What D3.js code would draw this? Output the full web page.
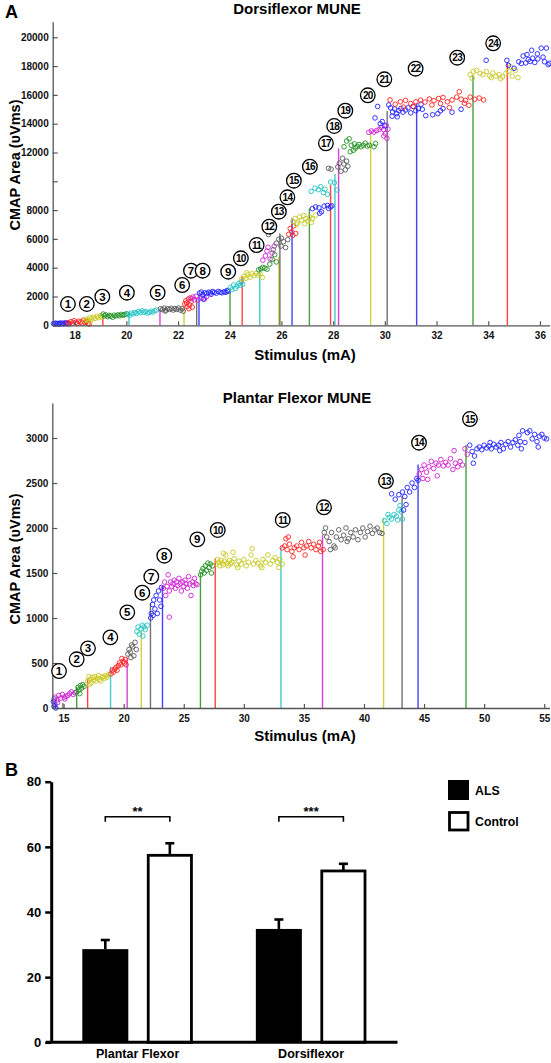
<!DOCTYPE html>
<html><head><meta charset="utf-8">
<script src="https://cdn.jsdelivr.net/npm/d3@7"></script>
<style>body{margin:0;background:#fff}svg{display:block}text{font-family:"Liberation Sans",Arial,Helvetica,sans-serif;font-weight:bold}</style>
</head><body><svg id="c" width="551" height="1063"></svg>
<script>
const palette = {b:"#2222ff", r:"#ff2222", y:"#c8c822", g:"#229022", c:"#22c4c4", m:"#d222d2", k:"#5a5a5a"};

// ---------- Panel A: Dorsiflexor MUNE ----------
const dorsiXTicks = [18,20,22,24,26,28,30,32,34,36];
const dorsiYTicks = [0,2000,4000,6000,8000,10000,12000,14000,16000,18000,20000];
const dorsiYLabels = [0,2000,4000,6000,8000,12000,14000,16000,18000,20000];
const dorsiThresholds = [[19.09,"r",670],[20.10,"c",850],[21.30,"m",1130],[22.23,"y",1290],[22.72,"k",1900],[22.81,"b",2200],[24.01,"g",2570],[24.48,"r",3420],[25.16,"c",3960],[25.90,"y",4760],[25.94,"k",6400],[26.41,"b",7430],[27.08,"g",8120],[27.90,"r",9740],[28.07,"c",10500],[28.21,"m",12290],[29.45,"y",13330],[30.09,"k",14880],[31.23,"b",15420],[33.41,"g",17380],[34.74,"r",18260]];
const dorsiUnitLabels = [[17.74,1479],[18.47,1479],[19.07,1986],[20.02,2264],[21.21,2264],[22.16,2798],[22.50,3792],[22.95,3792],[23.94,3722],[24.43,4653],[25.04,5576],[25.53,6847],[25.90,7888],[26.23,8888],[26.48,10041],[27.10,11013],[27.72,12638],[28.04,13840],[28.47,14902],[29.34,15972],[29.98,17083],[31.19,17819],[32.80,18583],[34.19,19583]];
const dorsiPoints = [
 ["b",[[17.18,120],[17.22,80],[17.26,150],[17.3,100],[17.35,130],[17.4,70],[17.44,160],[17.48,110],[17.53,140],[17.57,90],[17.62,170],[17.66,120],[17.7,150],[17.74,100]]],
 ["r",[[17.74,180],[17.8,110],[17.86,260],[17.92,150],[17.98,320],[18.04,200],[18.1,120],[18.16,280],[18.22,220],[18.28,150],[18.34,360],[18.4,200],[18.46,260],[18.52,130],[18.56,90]]],
 ["y",[[18.38,330],[18.45,420],[18.52,360],[18.58,520],[18.65,450],[18.72,560],[18.79,480],[18.86,620],[18.93,530],[19.0,660],[18.6,250],[19.04,580]]],
 ["g",[[19.1,780],[19.15,660],[19.2,720],[19.27,600],[19.33,690],[19.4,640],[19.47,560],[19.53,700],[19.6,650],[19.67,720],[19.73,660],[19.8,760],[19.87,700],[19.93,740],[20.0,800]]],
 ["c",[[20.05,780],[20.12,700],[20.19,850],[20.26,790],[20.33,880],[20.4,830],[20.47,960],[20.54,880],[20.61,1010],[20.68,900],[20.75,960],[20.82,850],[20.89,900],[20.96,980],[21.03,920],[21.1,1010],[21.17,1060]]],
 ["k",[[21.32,1150],[21.39,1090],[21.46,1200],[21.53,1050],[21.6,1150],[21.67,1100],[21.74,1180],[21.81,1060],[21.88,1160],[21.95,1100],[22.02,1200],[22.09,1050],[22.16,1150],[22.2,980],[21.5,990]]],
 ["r",[[22.26,1480],[22.3,1700],[22.35,1300],[22.4,1820],[22.45,1420],[22.5,1620],[22.55,1260],[22.33,1550],[22.47,1900],[22.42,1150]]],
 ["m",[[22.52,1850],[22.58,1960],[22.64,1780],[22.7,2020],[22.77,1760],[22.92,1900],[23.02,1820],[23.1,1980]]],
 ["b",[[22.83,2230],[22.9,2310],[22.96,2120],[23.03,2260],[23.1,2200],[23.18,2300],[23.25,2250],[23.33,2340],[23.4,2290],[23.48,2230],[23.55,2350],[23.63,2300],[23.7,2260],[23.78,2330],[23.85,2290],[23.93,2360],[22.98,1820],[23.28,2150],[23.9,2420]]],
 ["c",[[24.03,2620],[24.08,2480],[24.15,2800],[24.22,2560],[24.28,2720],[24.35,2900],[24.4,2780],[24.45,3020],[24.5,2850]]],
 ["y",[[24.47,3220],[24.55,3400],[24.62,3260],[24.7,3500],[24.78,3340],[24.86,3580],[24.94,3460],[25.02,3620],[25.1,3480],[25.18,3550],[25.26,3320],[24.66,3650]]],
 ["g",[[25.12,3860],[25.2,3920],[25.28,4020],[25.36,3960],[25.44,3900],[25.55,4250],[25.64,4580],[25.74,4900],[25.8,4400]]],
 ["m",[[25.28,4520],[25.38,4820],[25.48,5420],[25.56,4600],[25.64,5020],[25.44,5150],[25.72,5500]]],
 ["k",[[25.5,6300],[25.68,5250],[25.8,5700],[25.9,5980],[26.0,6050],[26.08,5800],[26.16,5400],[26.24,5950],[25.98,5500]]],
 ["r",[[26.28,6320],[26.34,6720],[26.4,6480],[26.47,6900],[26.55,6380],[26.44,6250]]],
 ["y",[[26.45,7220],[26.53,7420],[26.62,7100],[26.7,7520],[26.78,7300],[26.86,7620],[26.94,7400],[27.02,7230],[27.1,7520],[27.2,7400],[27.32,7650],[26.58,7000],[26.9,7060],[27.16,7150]]],
 ["b",[[27.2,8100],[27.32,8220],[27.45,8160],[27.55,7880],[27.65,8280],[27.78,8320],[27.9,8220],[27.48,7780],[27.82,8120],[27.95,8300]]],
 ["c",[[27.15,9300],[27.3,9520],[27.43,9420],[27.52,9620],[27.62,9220],[27.78,9100],[27.9,9950],[28.05,9900],[28.15,9400],[27.68,9450]]],
 ["k",[[27.82,10900],[27.92,10850],[28.18,11000],[28.24,11250],[28.3,10700],[28.36,11600],[28.42,11200],[28.47,10800],[28.52,11400],[28.57,11050]]],
 ["g",[[28.42,12400],[28.52,12800],[28.62,12950],[28.7,12500],[28.66,12050],[28.78,12150],[28.86,12300],[28.93,12420],[29.0,12550],[29.08,12400],[29.16,12500],[29.24,12650],[29.32,12450],[29.4,12500],[29.58,12400],[29.64,12620],[28.82,12600]]],
 ["m",[[29.38,13400],[29.48,13500],[29.58,13420],[29.68,13520],[29.78,13600],[29.86,13750],[29.95,13600],[30.02,13300],[30.08,12980],[29.96,13150],[30.12,13620],[30.05,13900]]],
 ["b",[[29.72,15200],[29.62,14400],[29.9,14150],[30.0,13850],[29.82,14000]]],
 ["b",[[30.15,15300],[30.22,15100],[30.3,14820],[30.38,15020],[30.46,14700],[30.54,14900],[30.62,15050],[30.7,14800],[30.8,14950],[30.9,15100],[31.0,14750],[31.1,15200],[31.2,14900],[31.3,15050],[31.45,15000],[30.28,14520],[30.48,14480],[31.58,14560],[31.85,14620],[32.15,14900],[32.25,15050],[32.6,14800],[32.95,15000],[32.05,14700],[31.4,15350]]],
 ["r",[[30.2,15650],[30.4,15350],[30.6,15520],[30.8,15620],[31.0,15400],[31.2,15520],[31.38,15640],[31.55,15500],[31.72,15720],[31.9,15600],[32.08,15750],[32.25,15820],[32.42,15520],[32.6,15650],[32.78,15850],[32.95,15700],[33.12,15620],[33.3,15850],[33.48,15700],[33.65,15780],[33.82,15650],[31.1,15200],[31.82,15300],[32.5,15120],[33.08,15420],[33.25,15280],[32.88,16220],[32.15,15400],[30.72,15150]]],
 ["y",[[33.3,17420],[33.42,17620],[33.55,17700],[33.68,17500],[33.8,17400],[33.93,17620],[34.06,17320],[34.18,17520],[34.3,17300],[34.42,17420],[34.55,17250],[34.68,17500],[34.8,17650],[34.93,17300],[35.05,17700],[35.15,17200],[33.38,17150],[34.12,17200],[34.48,17120],[34.87,17950]]],
 ["b",[[33.92,18400],[34.72,18400],[34.78,18050],[35.0,17850],[35.18,18300],[35.35,18700],[35.5,18800],[35.68,19100],[35.45,18220],[35.62,18320],[35.8,18250],[35.92,18500],[36.05,19250],[36.18,18300],[36.32,18100],[35.28,18180],[35.9,18850],[36.12,18620],[36.36,18200],[35.72,18550],[36.25,19250],[35.55,18450]]]
];

// ---------- Panel A: Plantar Flexor MUNE ----------
const plantarXTicks = [15,20,25,30,35,40,45,50,55];
const plantarYTicks = [0,500,1000,1500,2000,2500,3000];
const plantarThresholds = [[14.33,"b",80],[14.94,"k",55],[16.09,"g",237],[17.00,"r",319],[18.91,"c",459],[20.29,"m",552],[21.47,"y",867],[22.23,"k",1163],[23.23,"b",1355],[26.39,"g",1496],[27.62,"r",1660],[33.09,"c",1792],[36.55,"m",1922],[41.63,"y",2115],[43.17,"k",2355],[44.50,"b",2707],[48.49,"g",2922]];
const plantarUnitLabels = [[14.62,411],[16.09,541],[17.03,663],[18.89,785],[20.30,1063],[21.55,1281],[22.30,1459],[23.38,1692],[26.13,1874],[27.83,1978],[33.24,2089],[36.67,2230],[41.83,2522],[44.58,2948],[48.82,3211]];
const plantarPoints = [
 ["b",[[14.15,70],[14.2,20],[14.28,40],[14.35,0],[14.22,100]]],
 ["m",[[14.3,120],[14.45,90],[14.6,140],[14.75,110],[14.9,150],[15.05,120],[15.2,130],[15.35,140],[15.5,160],[15.65,180],[15.8,150],[15.95,170],[14.5,60],[15.1,100]]],
 ["g",[[16.1,180],[16.2,230],[16.3,200],[16.4,250],[16.5,220],[16.6,260],[16.7,240],[16.35,160]]],
 ["y",[[17.0,300],[17.1,350],[17.2,320],[17.3,280],[17.4,340],[17.5,310],[17.6,350],[17.7,300],[17.8,330],[17.9,360],[18.0,320],[18.1,300],[18.2,340],[18.3,350],[18.4,330],[18.5,360],[18.6,340],[18.75,370],[17.15,260]]],
 ["r",[[18.95,380],[19.05,420],[19.15,400],[19.25,430],[19.35,450],[19.45,420],[19.55,470],[19.65,500],[19.75,480],[19.85,550],[19.95,520],[20.05,500],[20.15,540],[20.2,480]]],
 ["k",[[20.35,600],[20.45,650],[20.55,620],[20.65,700],[20.75,680],[20.85,580],[20.95,730],[21.05,650],[20.6,560]]],
 ["c",[[21.1,850],[21.2,900],[21.3,820],[21.45,880],[21.55,920],[21.7,900],[21.8,870],[21.95,920],[21.6,800]]],
 ["b",[[22.25,1000],[22.3,1050],[22.4,1150],[22.5,1200],[22.6,1100],[22.7,1250],[22.8,1050],[22.9,1300],[23.0,1200],[23.1,1130],[22.45,1030],[23.15,1340]]],
 ["m",[[23.3,1330],[23.4,1400],[23.5,1250],[23.6,1350],[23.7,1480],[23.8,1300],[23.9,1400],[24.0,1350],[24.1,1380],[24.2,1420],[24.3,1330],[24.4,1400],[24.5,1360],[24.6,1440],[24.7,1380],[24.8,1300],[24.9,1400],[25.0,1350],[25.1,1420],[25.2,1380],[25.3,1330],[25.4,1460],[25.5,1380],[25.6,1250],[25.7,1400],[25.8,1360],[25.9,1440],[26.0,1380],[26.1,1370],[23.8,1010]]],
 ["g",[[26.4,1480],[26.5,1520],[26.6,1550],[26.7,1500],[26.8,1580],[26.9,1530],[27.0,1610],[27.1,1560],[27.2,1600],[27.3,1500],[27.4,1580]]],
 ["y",[[27.7,1600],[27.8,1650],[27.9,1620],[28.0,1580],[28.1,1640],[28.2,1610],[28.3,1590],[28.4,1630],[28.5,1700],[28.6,1610],[28.7,1580],[28.8,1640],[28.9,1600],[29.0,1620],[29.2,1660],[29.4,1590],[29.6,1630],[29.8,1600],[30.0,1650],[30.2,1580],[30.4,1620],[30.6,1700],[30.8,1600],[31.0,1640],[31.2,1610],[31.4,1580],[31.6,1650],[31.8,1620],[32.0,1700],[32.2,1600],[32.4,1640],[32.6,1670],[32.8,1620],[33.0,1650],[28.3,1720],[29.1,1730],[30.7,1770],[33.2,1600],[32.9,1560],[29.5,1560],[31.5,1560]]],
 ["r",[[33.2,1780],[33.4,1800],[33.6,1760],[33.8,1820],[34.0,1740],[34.2,1780],[34.4,1800],[34.6,1760],[34.8,1840],[35.0,1780],[35.2,1800],[35.4,1850],[35.6,1780],[35.8,1820],[36.0,1760],[36.2,1800],[36.4,1740],[36.6,1760],[33.5,1880],[33.7,1900],[34.1,1680],[35.1,1700],[36.3,1840]]],
 ["k",[[36.7,1950],[36.9,1900],[37.1,1850],[37.3,1950],[37.5,1800],[37.7,1900],[37.9,1980],[38.1,1870],[38.3,1920],[38.5,2000],[38.7,1880],[38.9,1950],[39.1,1900],[39.3,1980],[39.5,1870],[39.7,1950],[39.9,2000],[40.1,1900],[40.3,1960],[40.5,2020],[40.7,1940],[40.9,1980],[41.1,2000],[41.3,1950],[41.5,1940],[37.2,1760],[37.6,1780],[36.8,2000],[38.6,1850]]],
 ["c",[[41.7,2080],[41.9,2050],[42.1,2120],[42.3,2100],[42.5,2150],[42.7,2130],[42.9,2200],[43.1,2180],[43.2,2100],[42.0,2150],[42.8,2090],[43.0,2250]]],
 ["b",[[42.3,2380],[42.6,2320],[42.9,2370],[43.2,2400],[43.4,2350],[43.6,2450],[43.8,2400],[44.0,2500],[44.2,2450],[44.4,2550],[44.5,2530],[43.3,2200],[43.5,2260]]],
 ["m",[[44.6,2600],[44.8,2650],[45.0,2700],[45.2,2620],[45.4,2680],[45.6,2740],[45.8,2660],[46.0,2720],[46.2,2700],[46.4,2760],[46.6,2690],[46.8,2730],[47.0,2700],[47.2,2770],[47.4,2650],[47.6,2720],[47.8,2680],[48.0,2740],[48.2,2700],[48.4,2880],[48.6,2820],[45.3,2540],[46.1,2580],[47.5,2860],[44.9,2550]]],
 ["b",[[48.8,2920],[49.0,2850],[49.2,2800],[49.4,2880],[49.6,2900],[49.8,2870],[50.0,2920],[50.2,2890],[50.4,2910],[50.6,2880],[50.8,2930],[51.0,2900],[51.2,2920],[51.4,2950],[51.6,2880],[51.8,2930],[52.0,2960],[52.2,2900],[52.4,2950],[52.6,2980],[52.8,2920],[53.0,2960],[53.2,3080],[53.4,2950],[53.6,3060],[53.8,3080],[54.0,2990],[54.2,3040],[54.4,2960],[54.6,3020],[54.8,3040],[55.0,3000],[55.2,2990],[49.1,2720],[51.3,2860],[53.1,2880],[54.5,2900],[52.9,3030],[50.5,2950]]]
];

// ---------- Panel B ----------
const barCategories = ["Plantar Flexor","Dorsiflexor"];
const alsMeans = [28.6, 34.8];
const alsErrors = [2.8, 2.9];
const controlMeans = [57.4, 52.6];
const controlErrors = [3.7, 2.2];
const significance = ["**","***"];
const barYTicks = [0,20,40,60,80];
const legendItems = ["ALS","Control"];

const svg = d3.select("#c");

function scatterPanel(cfg){
  const g = svg.append("g");
  const x = d3.scaleLinear().domain(cfg.xDomain).range(cfg.xRange);
  const y = d3.scaleLinear().domain(cfg.yDomain).range(cfg.yRange);
  g.selectAll("line.th").data(cfg.thresholds).join("line")
    .attr("x1",d=>x(d[0])).attr("x2",d=>x(d[0]))
    .attr("y1",y(0)).attr("y2",d=>y(d[2]))
    .attr("stroke",d=>palette[d[1]]).attr("stroke-width",1.4).attr("opacity",0.85);
  cfg.points.forEach(([col,pts])=>{
    g.selectAll(null).data(pts).join("circle")
      .attr("cx",d=>x(d[0])).attr("cy",d=>y(d[1])).attr("r",2.3)
      .attr("fill","none").attr("stroke",palette[col]).attr("stroke-width",0.9);
  });
  const yAxis = d3.axisLeft(y).tickValues(cfg.yTicks).tickSizeInner(-5).tickSizeOuter(0).tickPadding(4)
    .tickFormat(v=>cfg.yLabels.includes(v)?String(v):"");
  const ya = g.append("g").attr("transform",`translate(${cfg.xRange[0]},0)`).call(yAxis);
  const xAxis = d3.axisBottom(x).tickValues(cfg.xTicks).tickSizeInner(-4).tickSizeOuter(0).tickPadding(7);
  const xa = g.append("g").attr("transform",`translate(0,${y(0)})`).call(xAxis);
  [ya,xa].forEach(a=>{
    a.select(".domain").attr("stroke","#555").attr("stroke-width",1.3);
    a.selectAll(".tick line").attr("stroke","#555").attr("stroke-width",1.2);
    a.selectAll("text").attr("font-size",10).attr("fill","#111").attr("font-weight","bold");
  });
  cfg.labels.forEach((d,i)=>{
    const cx=x(d[0]), cy=y(d[1]);
    g.append("circle").attr("cx",cx).attr("cy",cy).attr("r",7.3)
      .attr("fill","#fff").attr("stroke","#000").attr("stroke-width",1.3);
    const n=i+1;
    g.append("text").attr("x",cx).attr("y",cy+(n>9?3.6:4)).attr("text-anchor","middle")
      .attr("font-size",n>9?10:11.5).attr("letter-spacing",n>9?-0.7:0).attr("fill","#000").text(n);
  });
  g.append("text").attr("x",cfg.titleX).attr("y",cfg.titleY).attr("text-anchor","middle")
    .attr("font-size",15).text(cfg.title);
  g.append("text").attr("x",305).attr("y",cfg.xTitleY).attr("text-anchor","middle")
    .attr("font-size",15).text("Stimulus (mA)");
  g.append("text").attr("transform",`translate(20,${cfg.yTitleY}) rotate(-90)`).attr("text-anchor","middle")
    .attr("font-size",14.5).text("CMAP Area (\u03C5Vms)");
}

scatterPanel({
  xDomain:[17.15,36.37], xRange:[52.7,549.5], yDomain:[0,21083], yRange:[325.3,21.7],
  xTicks:dorsiXTicks, yTicks:dorsiYTicks, yLabels:dorsiYLabels,
  thresholds:dorsiThresholds, points:dorsiPoints, labels:dorsiUnitLabels,
  title:"Dorsiflexor MUNE", titleX:297, titleY:14, xTitleY:360, yTitleY:165
});
scatterPanel({
  xDomain:[14.06,55.44], xRange:[52.3,549.5], yDomain:[0,3389], yRange:[708,403],
  xTicks:plantarXTicks, yTicks:plantarYTicks, yLabels:plantarYTicks,
  thresholds:plantarThresholds, points:plantarPoints, labels:plantarUnitLabels,
  title:"Plantar Flexor MUNE", titleX:297, titleY:403, xTitleY:741, yTitleY:559
});

svg.append("text").attr("x",5).attr("y",18).attr("font-size",18).text("A");
svg.append("text").attr("x",5).attr("y",776).attr("font-size",18).text("B");

// ---------- Bar chart ----------
(function(){
  const g = svg.append("g");
  const y = d3.scaleLinear().domain([0,80]).range([1042.3,781.7]);
  const x0 = d3.scaleBand().domain(barCategories).range([82.3,366.4]).paddingInner(0.363).paddingOuter(0);
  const x1 = d3.scaleBand().domain(["ALS","Control"]).range([0,x0.bandwidth()]).paddingInner(0.287);
  barCategories.forEach((cat,i)=>{
    const vals=[["ALS",alsMeans[i],alsErrors[i]],["Control",controlMeans[i],controlErrors[i]]];
    vals.forEach(([k,v,e])=>{
      const bx=x0(cat)+x1(k), bw=x1.bandwidth();
      g.append("line").attr("x1",bx+bw/2).attr("x2",bx+bw/2).attr("y1",y(v)).attr("y2",y(v+e))
        .attr("stroke","#000").attr("stroke-width",2.6);
      g.append("line").attr("x1",bx+bw/2-4.5).attr("x2",bx+bw/2+4.5).attr("y1",y(v+e)).attr("y2",y(v+e))
        .attr("stroke","#000").attr("stroke-width",2.6);
      if(k==="ALS"){
        g.append("rect").attr("x",bx).attr("y",y(v)).attr("width",bw).attr("height",y(0)-y(v)).attr("fill","#000");
      } else {
        g.append("rect").attr("x",bx+1.4).attr("y",y(v)).attr("width",bw-2.8).attr("height",y(0)-y(v))
          .attr("fill","#fff").attr("stroke","#000").attr("stroke-width",2.8);
      }
    });
    const a=x0(cat)+x1("ALS")+x1.bandwidth()/2, b=x0(cat)+x1("Control")+x1.bandwidth()/2;
    const yb=816.7;
    g.append("path").attr("d",`M${a},${yb+5}V${yb}H${b}V${yb+5}`).attr("fill","none")
      .attr("stroke","#000").attr("stroke-width",1.6);
    g.append("text").attr("x",(a+b)/2).attr("y",yb-0.5).attr("text-anchor","middle")
      .attr("font-size",13).text(significance[i]);
  });
  const yAxis=d3.axisLeft(y).tickValues(barYTicks).tickSizeInner(6).tickSizeOuter(0).tickPadding(4);
  const ya=g.append("g").attr("transform","translate(51.2,0)").call(yAxis);
  ya.select(".domain").attr("stroke","#000").attr("stroke-width",3);
  ya.selectAll(".tick line").attr("stroke","#000").attr("stroke-width",2.5);
  ya.selectAll("text").attr("font-size",13).attr("fill","#000").attr("font-weight","bold");
  g.append("line").attr("x1",46).attr("x2",397.5).attr("y1",y(0)).attr("y2",y(0))
    .attr("stroke","#000").attr("stroke-width",3);
  const xa=g.append("g").attr("transform",`translate(0,${y(0)})`)
    .call(d3.axisBottom(x0).tickSize(0).tickPadding(7));
  xa.select(".domain").remove();
  xa.selectAll("text").attr("font-size",12.5).attr("fill","#000").attr("font-weight","bold");
  legendItems.forEach((name,i)=>{
    const ly=780+i*31;
    g.append("rect").attr("x",i?449.5:448).attr("y",i?ly+1.5:ly).attr("width",i?18.5:21).attr("height",i?17.5:20)
      .attr("fill",i?"#fff":"#000").attr("stroke","#000").attr("stroke-width",i?2.8:0);
    g.append("text").attr("x",475).attr("y",ly+14.5).attr("font-size",12.3).text(name);
  });
})();
</script></body></html>
